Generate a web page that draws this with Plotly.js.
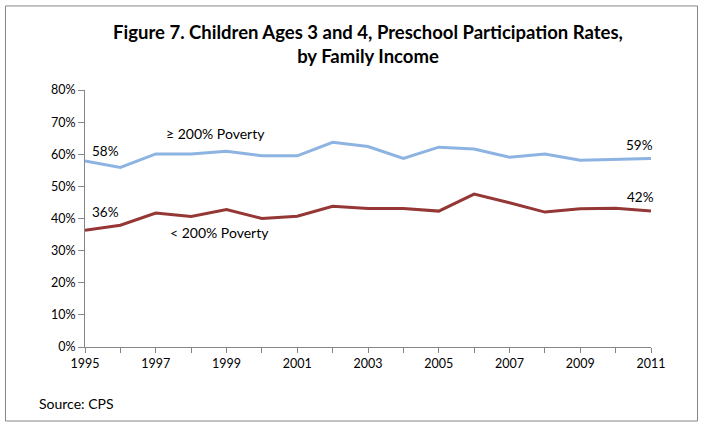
<!DOCTYPE html>
<html>
<head>
<meta charset="utf-8">
<script src="https://cdn.plot.ly/plotly-3.0.1.min.js"></script>
<style>html,body{margin:0;padding:0;background:#fff;}#chart{width:703px;height:428px;}</style>
</head>
<body>
<div id="chart"></div>
<script>
var years = [1995,1996,1997,1998,1999,2000,2001,2002,2003,2004,2005,2006,2007,2008,2009,2010,2011];
var above200 = [0.579,0.559,0.601,0.601,0.609,0.595,0.595,0.637,0.624,0.587,0.622,0.616,0.591,0.601,0.581,0.584,0.587];
var below200 = [0.363,0.379,0.417,0.406,0.428,0.400,0.407,0.438,0.431,0.431,0.423,0.476,0.449,0.420,0.430,0.432,0.423];
var yTicks = [0,0.1,0.2,0.3,0.4,0.5,0.6,0.7,0.8];
var yTickText = ['0%','10%','20%','30%','40%','50%','60%','70%','80%'];
var xTickText = years.map(function(y){ return (y % 2 === 1) ? String(y) : ''; });

var font = 'Lato, "Open Sans", sans-serif';
var traces = [
  {x: years, y: above200, type: 'scatter', mode: 'lines', name: '≥ 200% Poverty',
   line: {color: '#8db3e2', width: 3}, hoverinfo: 'skip'},
  {x: years, y: below200, type: 'scatter', mode: 'lines', name: '< 200% Poverty',
   line: {color: '#953735', width: 3}, hoverinfo: 'skip'}
];
var layout = {
  width: 703, height: 428,
  margin: {l: 85, r: 52, t: 90, b: 81},
  paper_bgcolor: '#fff', plot_bgcolor: '#fff',
  showlegend: false,
  font: {family: font, size: 12, color: '#000'},
  title: {text: '<b>Figure 7. Children Ages 3 and 4, Preschool Participation Rates,<br>by Family Income</b>',
          x: 0.5, xref: 'paper', xanchor: 'center', y: 0.91, yanchor: 'middle',
          font: {family: font, size: 18.5, color: '#000'}},
  xaxis: {range: [1995, 2011], tickmode: 'array', tickvals: years, ticktext: xTickText,
          ticks: 'outside', ticklen: 5, tickcolor: '#868686', showline: true, linecolor: '#868686',
          linewidth: 1, showgrid: false, zeroline: false, tickfont: {size: 12.5, color: '#000'}},
  yaxis: {range: [0, 0.8], tickmode: 'array', tickvals: yTicks, ticktext: yTickText,
          ticks: 'outside', ticklen: 6, tickcolor: '#868686', showline: true, linecolor: '#868686',
          linewidth: 1, showgrid: false, zeroline: false, tickfont: {size: 12.5, color: '#000'}},
  annotations: [
    {x: years[0], y: above200[0], text: '58%', showarrow: false, xanchor: 'left', yanchor: 'bottom', xshift: 5, yshift: 0, font: {size: 13.5}},
    {x: 1998.7, y: 0.665, text: '≥ 200% Poverty', showarrow: false, font: {size: 14}},
    {x: years[0], y: below200[0], text: '36%', showarrow: false, xanchor: 'left', yanchor: 'bottom', xshift: 5, yshift: 8, font: {size: 13.5}},
    {x: 1998.8, y: 0.355, text: '< 200% Poverty', showarrow: false, font: {size: 14}},
    {x: years[16], y: above200[16], text: '59%', showarrow: false, xanchor: 'right', yanchor: 'bottom', xshift: 4, yshift: 3, font: {size: 13.5}},
    {x: years[16], y: below200[16], text: '42%', showarrow: false, xanchor: 'right', yanchor: 'bottom', xshift: 5, yshift: 4, font: {size: 13.5}},
    {xref: 'paper', yref: 'paper', x: -0.085, y: -0.218, text: 'Source: CPS', showarrow: false, xanchor: 'left', yanchor: 'middle', font: {size: 14}}
  ],
  shapes: [
    {type: 'rect', xref: 'paper', yref: 'paper', x0: -0.1405, x1: 1.0822, y0: -0.288, y1: 1.327,
     line: {color: '#868686', width: 1}, fillcolor: 'rgba(0,0,0,0)', layer: 'below'}
  ]
};
Plotly.newPlot('chart', traces, layout, {displayModeBar: false, staticPlot: true});
</script>
</body>
</html>
